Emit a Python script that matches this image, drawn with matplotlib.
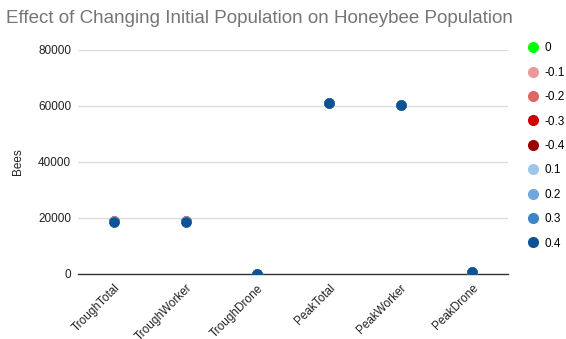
import matplotlib
matplotlib.use("Agg")
import matplotlib.pyplot as plt
from matplotlib.lines import Line2D

plt.rcParams['font.family'] = ['Liberation Sans', 'DejaVu Sans']

categories = ["TroughTotal", "TroughWorker", "TroughDrone", "PeakTotal", "PeakWorker", "PeakDrone"]
series_labels = ["0", "-0.1", "-0.2", "-0.3", "-0.4", "0.1", "0.2", "0.3", "0.4"]
series_colors = ["#00ff00", "#ea9999", "#e06666", "#cc0000", "#990000",
                 "#9fc5e8", "#6fa8dc", "#3d85c6", "#0b5394"]

# Bees per category for each change in initial population
vals_0 = [18850, 18850, 110, 61150, 60250, 680]
vals_m01 = [18750, 18750, 100, 61000, 60200, 660]
vals_m02 = [18740, 18740, 100, 60980, 60200, 660]
vals_m03 = [18730, 18730, 100, 60960, 60200, 650]
vals_m04 = [18720, 18720, 100, 60950, 60200, 650]
vals_01 = [18720, 18720, 100, 60950, 60200, 650]
vals_02 = [18710, 18710, 100, 60940, 60200, 650]
vals_03 = [18700, 18700, 100, 60930, 60200, 650]
vals_04 = [18700, 18700, 100, 60920, 60200, 650]

series_values = [vals_0, vals_m01, vals_m02, vals_m03, vals_m04,
                 vals_01, vals_02, vals_03, vals_04]

fig = plt.figure(figsize=(5.66, 3.39), dpi=100)
ax = fig.add_axes([0.138, 0.192, 0.7595, 0.661])

x = list(range(len(categories)))
for vals, col, lab in zip(series_values, series_colors, series_labels):
    ax.plot(x, vals, linestyle="none", marker="o", markersize=7.5,
            color=col, markeredgewidth=0, label=lab, zorder=3)

ax.set_xlim(-0.5, len(categories) - 0.5)
ax.set_ylim(0, 80000)
ax.set_yticks([0, 20000, 40000, 60000, 80000])
ax.set_yticklabels(["0", "20000", "40000", "60000", "80000"])
ax.set_xticks(x)
ax.set_xticklabels(categories, rotation=45, ha="right", rotation_mode="anchor")

ax.grid(axis="y", color="#dddddd", linewidth=1, zorder=0)
ax.set_axisbelow(True)
for s in ["top", "right", "left"]:
    ax.spines[s].set_visible(False)
ax.spines["bottom"].set_color("#333333")
ax.spines["bottom"].set_linewidth(1)
ax.spines["bottom"].set_zorder(2)
ax.tick_params(axis="both", length=0, labelsize=8.5, colors="#222222")
ax.tick_params(axis="y", pad=5)
ax.tick_params(axis="x", pad=6)

ax.set_ylabel("Bees", fontsize=8.5, color="#222222", labelpad=10)

fig.text(0.011, 0.945, "Effect of Changing Initial Population on Honeybee Population",
         fontsize=13.5, color="#757575", ha="left", va="center")

handles = [Line2D([0], [0], linestyle="none", marker="o", markersize=8,
                  markeredgewidth=0, color=c) for c in series_colors]
fig.legend(handles, series_labels, loc="upper left", bbox_to_anchor=(0.932, 0.875),
           frameon=False, fontsize=8.5, handletextpad=0.45, labelspacing=1.05,
           handlelength=1.0, borderaxespad=0, borderpad=0)

fig.savefig("out.png", dpi=100)
